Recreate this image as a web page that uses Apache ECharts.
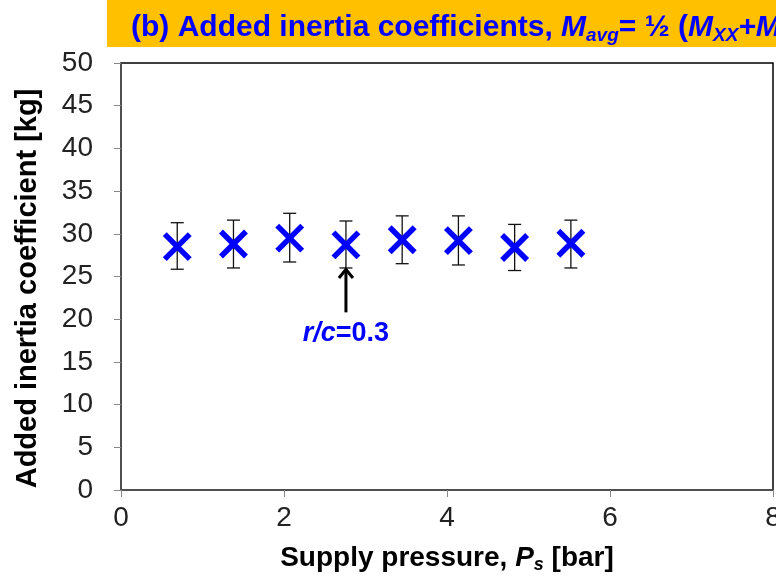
<!DOCTYPE html>
<html>
<head>
<meta charset="utf-8">
<script src="https://cdn.jsdelivr.net/npm/echarts@6/dist/echarts.min.js"></script>
<style>html,body{margin:0;padding:0;background:#fff}#c{width:776px;height:579px}</style>
</head>
<body>
<div id="c"></div>
<script>
// Supply pressure [bar]
const pressure = [0.69, 1.38, 2.07, 2.76, 3.45, 4.14, 4.83, 5.52];
// Added inertia coefficient M_avg [kg]
const mAvg = [28.5, 28.8, 29.5, 28.7, 29.3, 29.2, 28.4, 28.9];
const errHigh = [31.3, 31.6, 32.4, 31.5, 32.1, 32.1, 31.1, 31.6];
const errLow = [25.85, 26.0, 26.7, 26.0, 26.5, 26.35, 25.7, 26.0];
const xTicks = [0, 2, 4, 6, 8];
const yTicks = [0, 5, 10, 15, 20, 25, 30, 35, 40, 45, 50];
// annotation: arrow from (x, yFrom) up to (x, yTo), label at (x, yLabel)
const annotX = [2.76];
const annotFrom = [20.8];
const annotTo = [26.0];
const annotLabelY = [18.3];

const FONT = 'Liberation Sans, Arial, sans-serif';
const chart = echarts.init(document.getElementById('c'), null, {renderer: 'canvas'});

const errData = pressure.map((x, i) => [x, errLow[i], errHigh[i]]);
const ptData = pressure.map((x, i) => [x, mAvg[i]]);
const annData = annotX.map((x, i) => [x, annotFrom[i], annotTo[i], annotLabelY[i]]);

chart.setOption({
  animation: false,
  grid: {left: 121, top: 63, right: 3, bottom: 89, containLabel: false, outerBoundsMode: 'none',
    show: true, borderColor: '#000', borderWidth: 1.5, backgroundColor: 'transparent'},
  graphic: [
    {type: 'rect', left: 107, top: 0, shape: {width: 700, height: 47}, style: {fill: '#FFC000'}, z: 0},
    {type: 'text', left: 131, top: 13, z: 10,
      style: {
        text: '{n|(b) Added inertia coefficients, }{i|M}{s|avg}{n|= ½ (}{i|M}{s|XX}{i|+M}{s|YY}{n|)}',
        rich: {
          n: {fontFamily: FONT, fontWeight: 'bold', fontSize: 30, fill: '#0000FF', lineHeight: 34},
          i: {fontFamily: FONT, fontWeight: 'bold', fontStyle: 'italic', fontSize: 30, fill: '#0000FF', lineHeight: 34},
          s: {fontFamily: FONT, fontWeight: 'bold', fontStyle: 'italic', fontSize: 19, fill: '#0000FF', lineHeight: 14, verticalAlign: 'bottom'}
        }
      }
    }
  ],
  xAxis: {
    type: 'value', min: 0, max: 8, interval: 2,
    axisLine: {show: true, onZero: false, lineStyle: {color: '#555', width: 1.5}},
    axisTick: {show: true, inside: false, length: 7, lineStyle: {color: '#888'}},
    splitLine: {show: false},
    axisLabel: {fontFamily: FONT, fontSize: 28, color: '#222', margin: 14,
      formatter: v => xTicks.includes(v) ? String(v) : ''},
    name: '{a|Supply pressure, }{i|P}{s|s}{a| [bar]}',
    nameLocation: 'middle', nameGap: 52,
    nameTextStyle: {
      rich: {
        a: {fontFamily: FONT, fontWeight: 'bold', fontSize: 28, color: '#000', lineHeight: 32},
        i: {fontFamily: FONT, fontWeight: 'bold', fontStyle: 'italic', fontSize: 28, color: '#000', lineHeight: 32},
        s: {fontFamily: FONT, fontWeight: 'bold', fontStyle: 'italic', fontSize: 18, color: '#000', lineHeight: 12, verticalAlign: 'bottom'}
      }
    }
  },
  yAxis: {
    type: 'value', min: 0, max: 50, interval: 5,
    axisLine: {show: true, onZero: false, lineStyle: {color: '#555', width: 1.5}},
    axisTick: {show: true, inside: false, length: 7, lineStyle: {color: '#888'}},
    splitLine: {show: false},
    axisLabel: {fontFamily: FONT, fontSize: 28, color: '#222', margin: 28,
      formatter: v => yTicks.includes(v) ? String(v) : ''},
    name: 'Added inertia coefficient [kg]',
    nameLocation: 'middle', nameGap: 79,
    nameTextStyle: {fontFamily: FONT, fontWeight: 'bold', fontSize: 29, color: '#000', padding: [0, 24, 0, 0]}
  },
  series: [
    {
      type: 'custom', data: errData, z: 3,
      renderItem: (params, api) => {
        const x = api.value(0);
        const lo = api.coord([x, api.value(1)]);
        const hi = api.coord([x, api.value(2)]);
        const w = 6.5;
        const st = {stroke: '#111', lineWidth: 1.3, fill: null};
        return {type: 'group', children: [
          {type: 'line', shape: {x1: lo[0], y1: lo[1], x2: hi[0], y2: hi[1]}, style: st},
          {type: 'line', shape: {x1: lo[0] - w, y1: lo[1], x2: lo[0] + w, y2: lo[1]}, style: st},
          {type: 'line', shape: {x1: hi[0] - w, y1: hi[1], x2: hi[0] + w, y2: hi[1]}, style: st}
        ]};
      }
    },
    {
      type: 'custom', data: ptData, z: 4,
      renderItem: (params, api) => {
        const p = api.coord([api.value(0), api.value(1)]);
        const h = 12.5;
        const st = {stroke: '#0000FF', lineWidth: 5.5, fill: null, lineCap: 'butt'};
        return {type: 'group', children: [
          {type: 'line', shape: {x1: p[0] - h, y1: p[1] - h, x2: p[0] + h, y2: p[1] + h}, style: st},
          {type: 'line', shape: {x1: p[0] - h, y1: p[1] + h, x2: p[0] + h, y2: p[1] - h}, style: st}
        ]};
      }
    },
    {
      type: 'custom', data: annData, z: 5,
      renderItem: (params, api) => {
        const x = api.value(0);
        const a = api.coord([x, api.value(1)]);
        const b = api.coord([x, api.value(2)]);
        const l = api.coord([x, api.value(3)]);
        const st = {stroke: '#000', lineWidth: 3, fill: null};
        return {type: 'group', children: [
          {type: 'line', shape: {x1: a[0], y1: a[1], x2: b[0], y2: b[1] + 1}, style: st},
          {type: 'polyline', shape: {points: [[b[0] - 7, b[1] + 10], [b[0], b[1] + 1.5], [b[0] + 7, b[1] + 10]]}, style: st},
          {type: 'text', x: l[0], y: l[1], style: {
            text: '{i|r/c}{n|=0.3}', align: 'center', verticalAlign: 'middle',
            rich: {
              i: {fontFamily: FONT, fontWeight: 'bold', fontStyle: 'italic', fontSize: 27, fill: '#0000FF'},
              n: {fontFamily: FONT, fontWeight: 'bold', fontSize: 27, fill: '#0000FF'}
            }
          }}
        ]};
      }
    }
  ]
});
</script>
</body>
</html>
